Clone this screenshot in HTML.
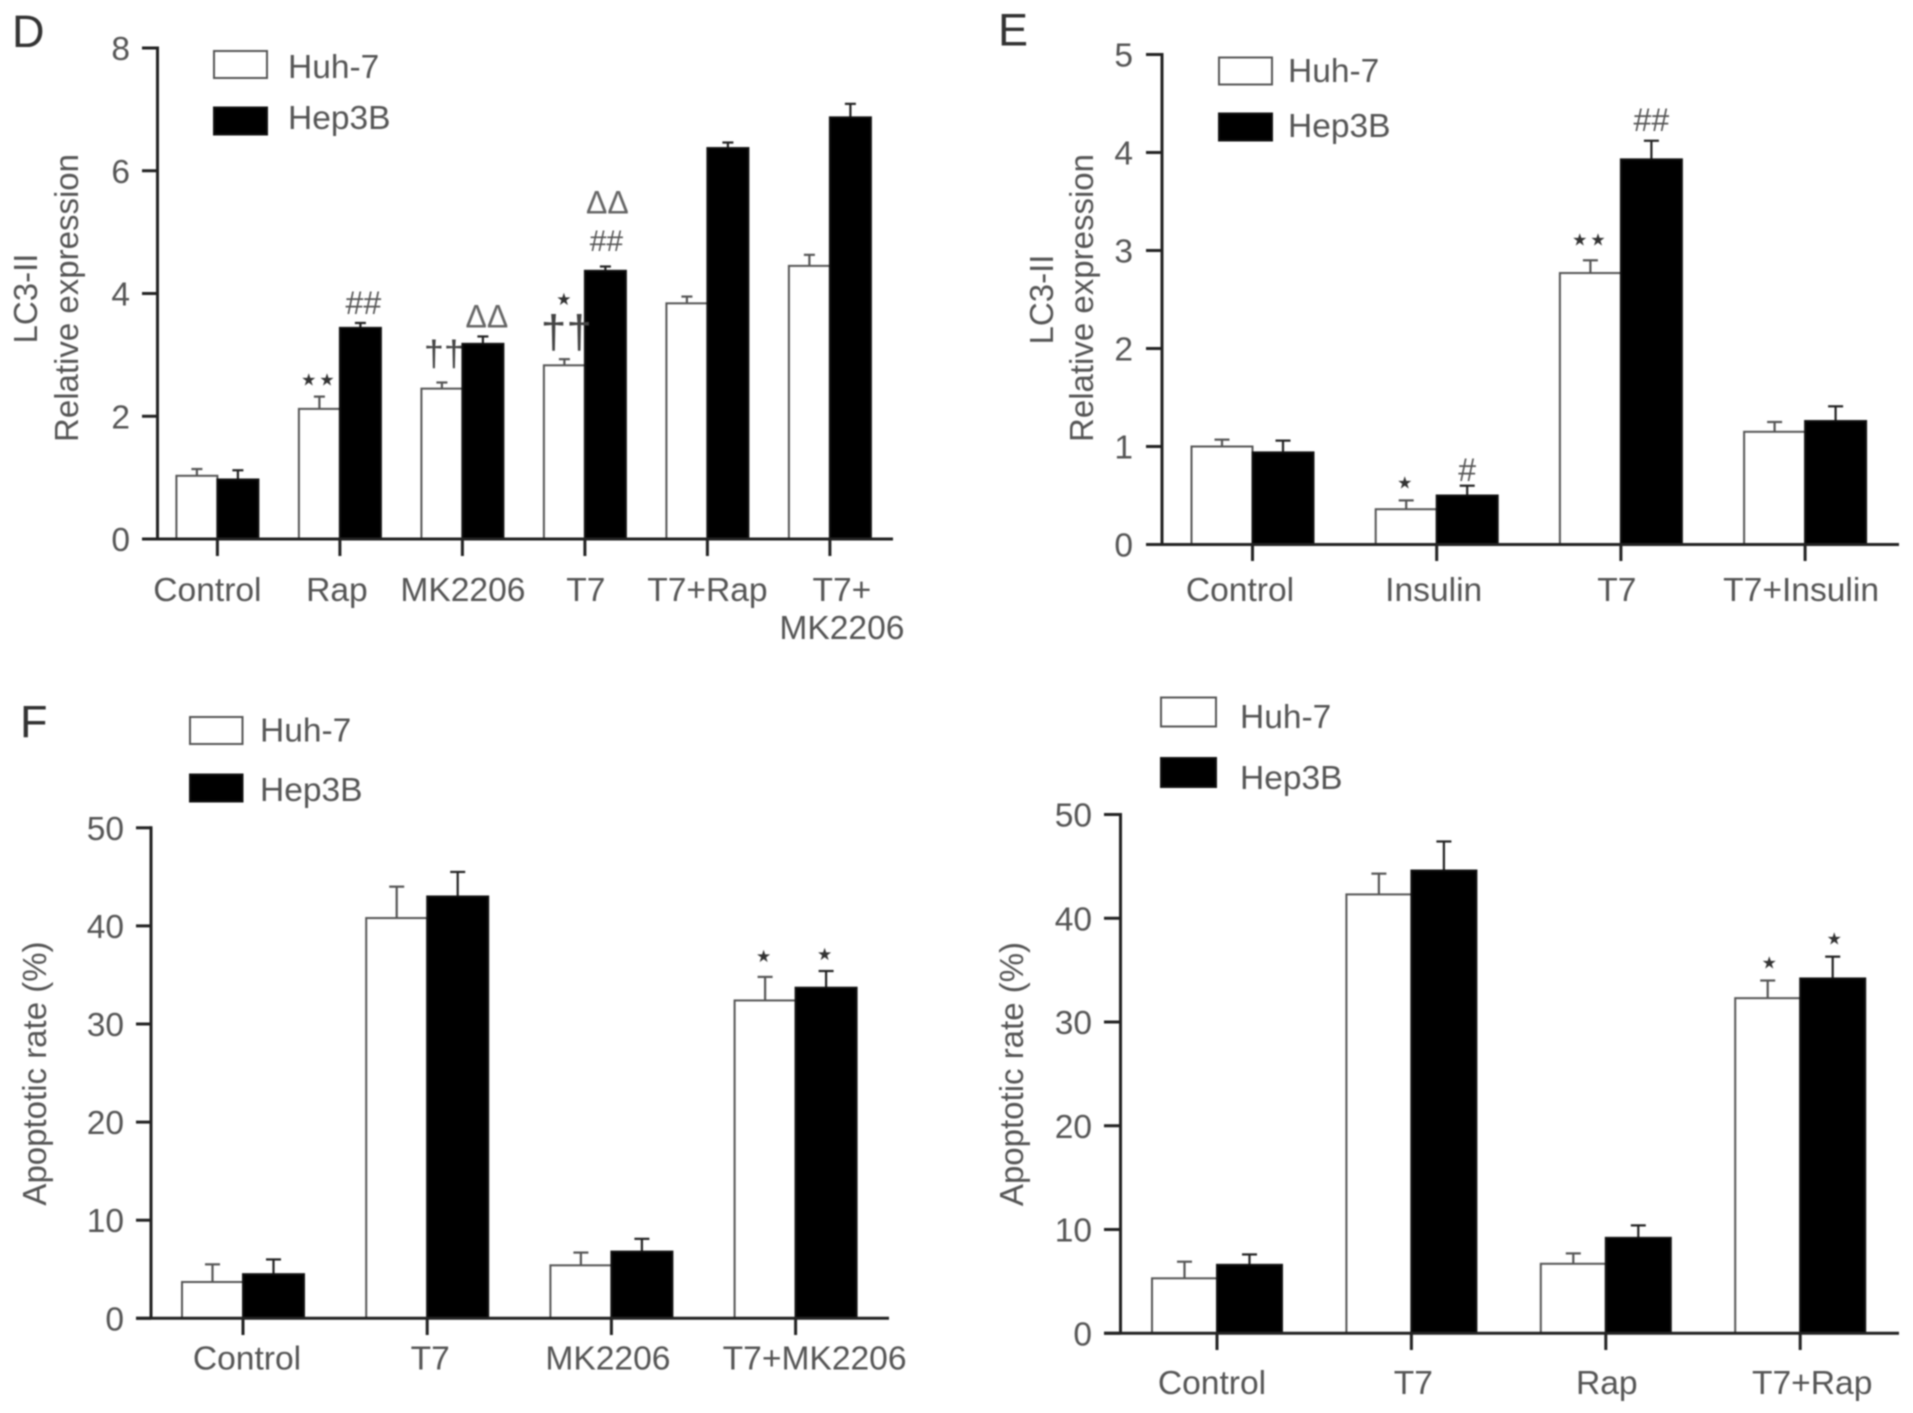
<!DOCTYPE html>
<html>
<head>
<meta charset="utf-8">
<title>LC3-II expression and apoptotic rate</title>
<style>
html,body{margin:0;padding:0;background:#fff;}
body{width:1913px;height:1413px;overflow:hidden;}
svg{display:block;filter:blur(0.8px);}
text{font-family:"Liberation Sans",sans-serif;fill:#555;}
</style>
</head>
<body>
<svg id="figure" width="1913" height="1413" viewBox="0 0 1913 1413" xmlns="http://www.w3.org/2000/svg"></svg>
<script>
// ---- Data ----
const seriesNames = ['Huh-7', 'Hep3B'];

const dCategories = ['Control', 'Rap', 'MK2206', 'T7', 'T7+Rap', 'T7+\nMK2206'];
const dHuh = [1.03, 2.12, 2.45, 2.83, 3.84, 4.45];
const dHep = [0.97, 3.44, 3.18, 4.37, 6.37, 6.87];
const dHuhTop = [1.14, 2.32, 2.55, 2.93, 3.95, 4.63];
const dHepTop = [1.12, 3.52, 3.30, 4.44, 6.46, 7.09];
const dTicks = [0, 2, 4, 6, 8];
const dMarkGroup = [1, 1, 2, 2, 3, 3, 3, 3];
const dMarkSeries = [0, 1, 0, 1, 0, 0, 1, 1];
const dMarkText = ['★★', '##', '††', 'ΔΔ', '††', '★', '##', 'ΔΔ'];

const eCategories = ['Control', 'Insulin', 'T7', 'T7+Insulin'];
const eHuh = [1.00, 0.36, 2.77, 1.15];
const eHep = [0.94, 0.50, 3.93, 1.26];
const eHuhTop = [1.07, 0.45, 2.90, 1.25];
const eHepTop = [1.06, 0.60, 4.12, 1.41];
const eTicks = [0, 1, 2, 3, 4, 5];
const eMarkGroup = [1, 1, 2, 2];
const eMarkSeries = [0, 1, 0, 1];
const eMarkText = ['★', '#', '★★', '##'];

const fCategories = ['Control', 'T7', 'MK2206', 'T7+MK2206'];
const fHuh = [3.7, 40.8, 5.4, 32.4];
const fHep = [4.5, 43.0, 6.8, 33.7];
const fHuhTop = [5.5, 44.0, 6.7, 34.8];
const fHepTop = [6.0, 45.5, 8.1, 35.4];
const fTicks = [0, 10, 20, 30, 40, 50];
const fMarkGroup = [3, 3];
const fMarkSeries = [0, 1];
const fMarkText = ['★', '★'];

const gCategories = ['Control', 'T7', 'Rap', 'T7+Rap'];
const gHuh = [5.3, 42.3, 6.7, 32.3];
const gHep = [6.6, 44.6, 9.2, 34.2];
const gHuhTop = [6.9, 44.3, 7.7, 34.0];
const gHepTop = [7.6, 47.4, 10.4, 36.3];
const gTicks = [0, 10, 20, 30, 40, 50];
const gMarkGroup = [3, 3];
const gMarkSeries = [0, 1];
const gMarkText = ['★', '★'];

// ---- Layout (pixels, independent of the data) ----
const panelD = {id:'d', letter:'D', letterX:12, letterY:47,
  axisX:157.5, y0:539, yTop:48, yMax:8, axisLeft:142, axisRight:893, tickBottom:556,
  firstTick:217.4, tickStep:122.5, barW:41, cap:11,
  labelShift:[-10,-3,0.5,1,0,12], labelY:601,
  tickLabelX:130, tickLabelDy:12,
  legendX:214, legendW:53, legendH:27, legendY:[51,107.5], legendTextX:288, legendTextY:[78,129],
  titleLines:['LC3-II','Relative expression'], titleX:[37,78], titleY:[298.5,298],
  markLift:[17,20,26,20,23,60,26,64], markDx:[0,3,2,4,2,1,1,2], markScale:[1,1.07,1,1,1.28,1,1,1]};
const panelE = {id:'e', letter:'E', letterX:998, letterY:45.5,
  axisX:1162, y0:544.5, yTop:54.5, yMax:5, axisLeft:1146, axisRight:1899, tickBottom:561,
  firstTick:1252.5, tickStep:184.2, barW:61, cap:15,
  labelShift:[-12.5,-3,-4,-4], labelY:601,
  tickLabelX:1133, tickLabelDy:12,
  legendX:1219, legendW:53, legendH:27, legendY:[57.5,113.5], legendTextX:1288, legendTextY:[82,137],
  titleLines:['LC3-II','Relative expression'], titleX:[1053,1093], titleY:[299.5,298],
  markLift:[18,16,21,21], markDx:[0,0,0,0], markScale:[1,1.07,1,1.07]};
const panelF = {id:'f', letter:'F', letterX:20, letterY:737,
  axisX:151, y0:1318.3, yTop:827.8, yMax:50, axisLeft:136, axisRight:889, tickBottom:1335,
  firstTick:243, tickStep:184.2, barW:61, cap:15,
  labelShift:[4,3,-3.5,19], labelY:1369.5,
  tickLabelX:124, tickLabelDy:12,
  legendX:190, legendW:52.5, legendH:27, legendY:[717,774.5], legendTextX:260, legendTextY:[741.5,801],
  titleLines:['Apoptotic rate (%)'], titleX:[46], titleY:[1073.5],
  markLift:[21,17], markDx:[0,0], markScale:[1,1]};
const panelG = {id:'g', letter:'', letterX:0, letterY:0,
  axisX:1120.5, y0:1333.3, yTop:814.5, yMax:50, axisLeft:1104, axisRight:1899, tickBottom:1350,
  firstTick:1217, tickStep:194.4, barW:65, cap:15,
  labelShift:[-5,2,1,12], labelY:1394,
  tickLabelX:1092, tickLabelDy:12,
  legendX:1161, legendW:55, legendH:29, legendY:[697.5,758], legendTextX:1240, legendTextY:[728,789],
  titleLines:['Apoptotic rate (%)'], titleX:[1023], titleY:[1074],
  markLift:[18,18], markDx:[3,3], markScale:[1,1]};

const SVGNS = 'http://www.w3.org/2000/svg';
const root = document.getElementById('figure');

function add(parent, tag, attrs, name, text) {
  const el = document.createElementNS(SVGNS, tag);
  for (const k in attrs) el.setAttribute(k, attrs[k]);
  
  
  if (text !== undefined) el.textContent = text;
  parent.appendChild(el);
  return el;
}

function markStyle(t) {
  const c = t.charAt(0);
  if (c === '★') return {size: 17, drop: 6, family: '"DejaVu Sans",sans-serif', spacing: 3, fill: '#333'};
  if (c === '#') return {size: 30, drop: 10.5, family: '"Liberation Sans",sans-serif', spacing: 0, fill: '#555'};
  if (c === '†') return {size: 36, drop: 9, family: '"Liberation Sans",sans-serif', spacing: 0, fill: '#444'};
  return {size: 32, drop: 11, family: '"Liberation Sans",sans-serif', spacing: 0, fill: '#666'};
}

function drawPanel(p, categories, huh, hep, huhTop, hepTop, ticks, markGroup, markSeries, markText) {
  const g = add(root, 'g', {}, 'panel-' + p.id);
  const yScale = v => p.y0 - (v / p.yMax) * (p.y0 - p.yTop);
  const xTick = i => p.firstTick + i * p.tickStep;
  const barLeft = (i, s) => xTick(i) + (s === 0 ? -p.barW : 0);
  const barCenter = (i, s) => barLeft(i, s) + p.barW / 2;

  if (p.letter) add(g, 'text', {x: p.letterX, y: p.letterY, 'font-size': 45, style: 'fill:#333'}, 'panel-letter', p.letter);

  p.titleLines.forEach((line, i) => {
    add(g, 'text', {transform: 'translate(' + p.titleX[i] + ',' + p.titleY[i] + ') rotate(-90)', 'text-anchor': 'middle', 'font-size': 33}, 'y-axis-title', line);
  });

  [huh, hep].forEach((vals, s) => {
    const tops = s === 0 ? huhTop : hepTop;
    const sName = seriesNames[s].toLowerCase();
    vals.forEach((v, i) => {
      const cx = barCenter(i, s);
      const stroke = s === 0 ? '#555' : '#222';
      add(g, 'line', {x1: cx, x2: cx, y1: yScale(v), y2: yScale(tops[i]), stroke: stroke, 'stroke-width': 2.2}, 'error-bar-' + sName);
      add(g, 'line', {x1: cx - p.cap / 2, x2: cx + p.cap / 2, y1: yScale(tops[i]), y2: yScale(tops[i]), stroke: stroke, 'stroke-width': 2.2}, 'error-cap-' + sName);
    });
  });
  [huh, hep].forEach((vals, s) => {
    const sName = seriesNames[s].toLowerCase();
    vals.forEach((v, i) => {
      add(g, 'rect', {x: barLeft(i, s), y: yScale(v), width: p.barW, height: p.y0 - yScale(v),
        fill: s === 0 ? '#fff' : '#000', stroke: s === 0 ? '#555' : '#111', 'stroke-width': 2}, 'bar-' + sName);
    });
  });

  add(g, 'line', {x1: p.axisX, x2: p.axisX, y1: p.yTop - 1.5, y2: p.y0, stroke: '#222', 'stroke-width': 3}, 'y-axis');
  add(g, 'line', {x1: p.axisLeft, x2: p.axisRight, y1: p.y0, y2: p.y0, stroke: '#222', 'stroke-width': 3}, 'x-axis');

  ticks.forEach(t => {
    add(g, 'line', {x1: p.axisLeft, x2: p.axisX, y1: yScale(t), y2: yScale(t), stroke: '#222', 'stroke-width': 3}, 'y-tick');
    add(g, 'text', {x: p.tickLabelX, y: yScale(t) + p.tickLabelDy, 'text-anchor': 'end', 'font-size': 33.5}, 'y-tick-label', String(t));
  });

  categories.forEach((c, i) => {
    add(g, 'line', {x1: xTick(i), x2: xTick(i), y1: p.y0, y2: p.tickBottom, stroke: '#222', 'stroke-width': 3}, 'x-tick');
    c.split('\n').forEach((line, j) => {
      add(g, 'text', {x: xTick(i) + p.labelShift[i], y: p.labelY + j * 38, 'text-anchor': 'middle', 'font-size': 33.6}, 'x-tick-label', line);
    });
  });

  seriesNames.forEach((n, s) => {
    add(g, 'rect', {x: p.legendX, y: p.legendY[s], width: p.legendW, height: p.legendH,
      fill: s === 0 ? '#fff' : '#000', stroke: s === 0 ? '#555' : '#111', 'stroke-width': 2}, 'legend-swatch-' + n.toLowerCase());
    add(g, 'text', {x: p.legendTextX, y: p.legendTextY[s], 'font-size': 33.5}, 'legend-label-' + n.toLowerCase(), n);
  });

  markText.forEach((t, m) => {
    const i = markGroup[m];
    const s = markSeries[m];
    const top = s === 0 ? huhTop[i] : hepTop[i];
    const st = markStyle(t);
    const k = p.markScale[m];
    add(g, 'text', {x: barCenter(i, s) + p.markDx[m], y: yScale(top) - p.markLift[m] + st.drop * k,
      'text-anchor': 'middle', 'font-size': st.size * k, 'letter-spacing': st.spacing,
      style: 'font-family:' + st.family + ';fill:' + st.fill}, 'significance-mark', t);
  });
}

drawPanel(panelD, dCategories, dHuh, dHep, dHuhTop, dHepTop, dTicks, dMarkGroup, dMarkSeries, dMarkText);
drawPanel(panelE, eCategories, eHuh, eHep, eHuhTop, eHepTop, eTicks, eMarkGroup, eMarkSeries, eMarkText);
drawPanel(panelF, fCategories, fHuh, fHep, fHuhTop, fHepTop, fTicks, fMarkGroup, fMarkSeries, fMarkText);
drawPanel(panelG, gCategories, gHuh, gHep, gHuhTop, gHepTop, gTicks, gMarkGroup, gMarkSeries, gMarkText);
</script>
</body>
</html>
